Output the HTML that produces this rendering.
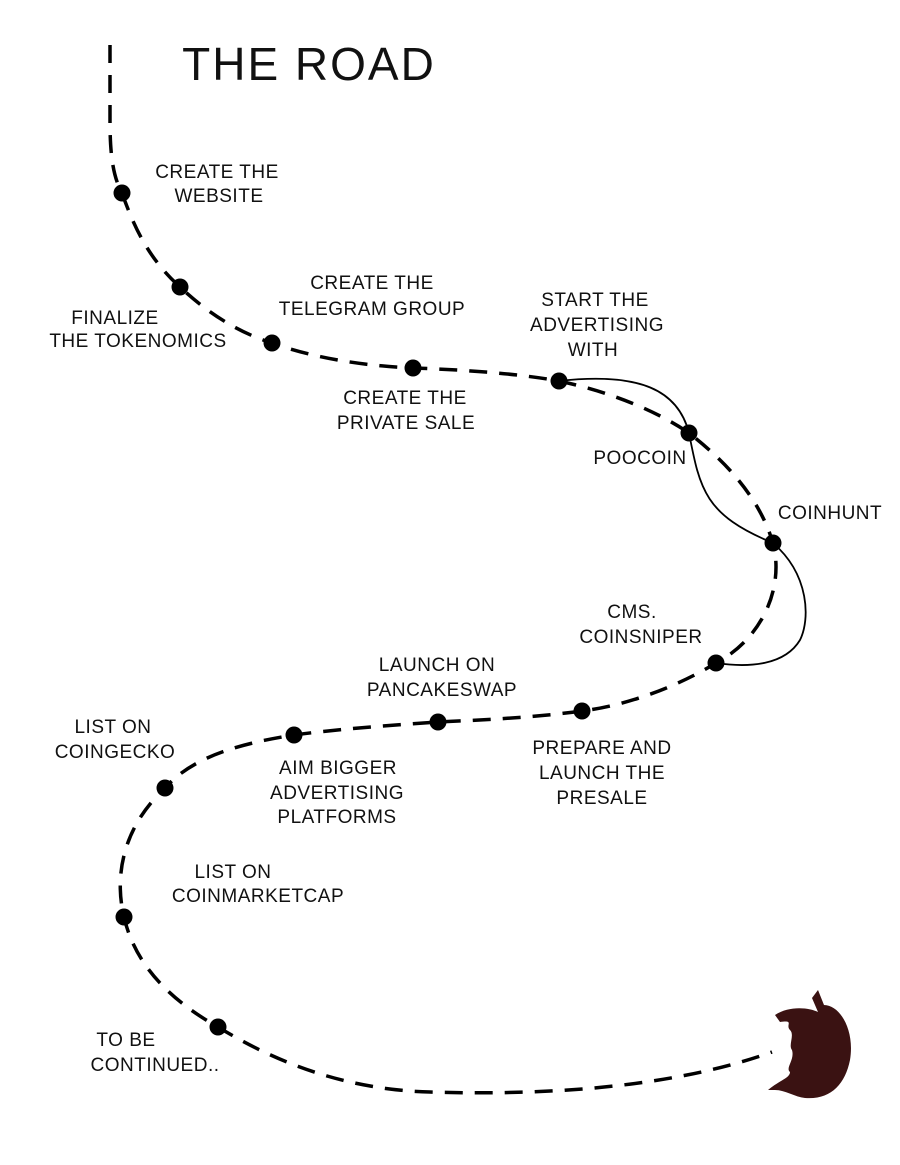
<!DOCTYPE html>
<html><head><meta charset="utf-8"><style>
html,body{margin:0;padding:0;background:#fff;}
svg{display:block}
text{font-family:"Liberation Sans",sans-serif;font-size:19px;fill:#111;text-anchor:middle;letter-spacing:0.5px}
</style></head><body>
<svg width="900" height="1165" viewBox="0 0 900 1165" xmlns="http://www.w3.org/2000/svg">
<g fill="none" stroke="#000" stroke-width="3.5" stroke-dasharray="18,12">
<path d="M110,45 L110,120 C110,150 112,175 122,193 C135,230 150,260 180,287 C210,315 240,333 272,343 C320,360 370,366 413,368 C470,370 520,374 559,381 C610,392 655,410 689,433 C730,465 760,500 773,543 C785,590 760,640 716,663 C680,685 630,705 582,711 C530,718 480,720 438,722 C380,726 330,730 294,735 C230,745 190,760 165,788 C120,830 115,880 124,917 C135,965 170,1000 218,1027 C280,1065 350,1090 430,1092 C560,1096 680,1085 772,1052"/>
</g>
<g fill="none" stroke="#000" stroke-width="1.8">
<path d="M559,381 C640,372 678,390 689,433 C700,490 705,515 773,543"/>
<path d="M773,543 C810,575 810,620 800,640 C785,665 750,668 716,663"/>
</g>
<g fill="#000">
<circle cx="122" cy="193" r="8.5"/><circle cx="180" cy="287" r="8.5"/><circle cx="272" cy="343" r="8.5"/><circle cx="413" cy="368" r="8.5"/><circle cx="559" cy="381" r="8.5"/><circle cx="689" cy="433" r="8.5"/><circle cx="773" cy="543" r="8.5"/><circle cx="716" cy="663" r="8.5"/><circle cx="582" cy="711" r="8.5"/><circle cx="438" cy="722" r="8.5"/><circle cx="294" cy="735" r="8.5"/><circle cx="165" cy="788" r="8.5"/><circle cx="124" cy="917" r="8.5"/><circle cx="218" cy="1027" r="8.5"/>
</g>
<path fill="#3a1212" d="M775,1015 C790,1005 810,1008 818,1012 L812,998 L818,990 L824,1005 C840,1005 855,1030 850,1060 C845,1085 830,1100 805,1098 C795,1097 785,1090 775,1090 L768,1090 C780,1080 790,1078 790,1072 C785,1068 795,1060 792,1050 C788,1045 795,1035 790,1030 C785,1025 795,1020 780,1022 Z"/>
<text x="309" y="80" style="font-size:46px;letter-spacing:2px">THE ROAD</text>
<text x="217" y="178">CREATE THE</text><text x="219" y="202">WEBSITE</text>
<text x="372" y="289">CREATE THE</text><text x="372" y="315">TELEGRAM GROUP</text>
<text x="115" y="324">FINALIZE</text><text x="138" y="347">THE TOKENOMICS</text>
<text x="595" y="306">START THE</text><text x="597" y="331">ADVERTISING</text><text x="593" y="356">WITH</text>
<text x="405" y="404">CREATE THE</text><text x="406" y="429">PRIVATE SALE</text>
<text x="640" y="464">POOCOIN</text>
<text x="830" y="519">COINHUNT</text>
<text x="632" y="618">CMS.</text><text x="641" y="643">COINSNIPER</text>
<text x="437" y="671">LAUNCH ON</text><text x="442" y="696">PANCAKESWAP</text>
<text x="602" y="754">PREPARE AND</text><text x="602" y="779">LAUNCH THE</text><text x="602" y="804">PRESALE</text>
<text x="113" y="733">LIST ON</text><text x="115" y="758">COINGECKO</text>
<text x="338" y="774">AIM BIGGER</text><text x="337" y="799">ADVERTISING</text><text x="337" y="823">PLATFORMS</text>
<text x="233" y="878">LIST ON</text><text x="258" y="902">COINMARKETCAP</text>
<text x="126" y="1046">TO BE</text><text x="155" y="1071">CONTINUED..</text>
</svg>
</body></html>
